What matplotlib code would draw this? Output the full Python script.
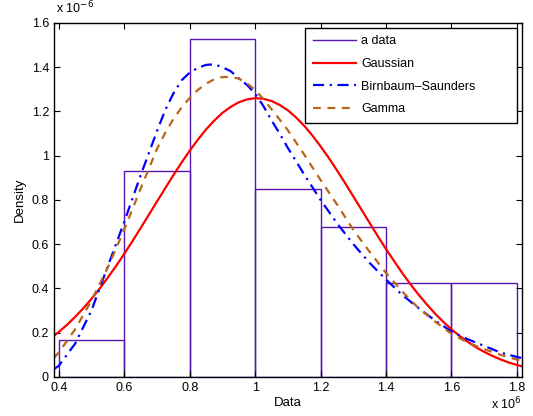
import matplotlib
matplotlib.use("Agg")
import matplotlib.pyplot as plt
from matplotlib.lines import Line2D

plt.rcParams['font.family'] = ['Liberation Sans', 'DejaVu Sans']

# histogram (x in units of 1e6, density in units of 1e-6)
bin_edges = [0.4, 0.6, 0.8, 1.0, 1.2, 1.4, 1.6, 1.8]
bin_density = [0.167, 0.930, 1.525, 0.847, 0.678, 0.423, 0.423]

# fitted curves
gauss_x = [0.385, 0.40, 0.425, 0.45, 0.475, 0.50, 0.525, 0.55, 0.575, 0.60,
           0.625, 0.65, 0.675, 0.70, 0.725, 0.75, 0.775, 0.80, 0.825, 0.85,
           0.875, 0.90, 0.925, 0.95, 0.975, 1.00, 1.025, 1.05, 1.075, 1.10,
           1.125, 1.15, 1.175, 1.20, 1.225, 1.25, 1.275, 1.30, 1.325, 1.35,
           1.375, 1.40, 1.425, 1.45, 1.475, 1.50, 1.525, 1.55, 1.575, 1.60,
           1.625, 1.65, 1.675, 1.70, 1.725, 1.75, 1.775, 1.80, 1.815]
gauss_y = [0.185, 0.203, 0.235, 0.271, 0.310, 0.353, 0.399, 0.449, 0.501, 0.556,
           0.613, 0.672, 0.732, 0.792, 0.852, 0.911, 0.968, 1.022, 1.072, 1.118,
           1.158, 1.193, 1.220, 1.241, 1.254, 1.260, 1.257, 1.247, 1.229, 1.205,
           1.173, 1.135, 1.091, 1.042, 0.990, 0.934, 0.876, 0.816, 0.756, 0.696,
           0.636, 0.578, 0.523, 0.469, 0.418, 0.371, 0.327, 0.286, 0.249, 0.215,
           0.185, 0.158, 0.134, 0.113, 0.095, 0.079, 0.065, 0.054, 0.048]

fit_x = [0.385, 0.40, 0.45, 0.50, 0.55, 0.60, 0.65, 0.70, 0.725, 0.75,
         0.775, 0.80, 0.825, 0.85, 0.875, 0.90, 0.925, 0.95, 0.975, 1.00,
         1.025, 1.05, 1.075, 1.10, 1.15, 1.20, 1.25, 1.30, 1.35, 1.40,
         1.45, 1.50, 1.55, 1.60, 1.65, 1.70, 1.75, 1.80, 1.815]
bs_y = [0.035, 0.05, 0.15, 0.30, 0.50, 0.70, 0.91, 1.11, 1.205, 1.28,
        1.34, 1.375, 1.397, 1.41, 1.413, 1.40, 1.382, 1.35, 1.32, 1.28,
        1.225, 1.16, 1.10, 1.035, 0.915, 0.80, 0.695, 0.60, 0.515, 0.44,
        0.37, 0.31, 0.255, 0.205, 0.17, 0.14, 0.11, 0.09, 0.085]
gamma_y = [0.085, 0.11, 0.215, 0.345, 0.495, 0.665, 0.85, 1.03, 1.102, 1.165,
           1.217, 1.26, 1.297, 1.325, 1.345, 1.355, 1.356, 1.348, 1.327, 1.297,
           1.256, 1.21, 1.163, 1.115, 1.005, 0.89, 0.78, 0.665, 0.565, 0.47,
           0.385, 0.31, 0.25, 0.195, 0.155, 0.125, 0.10, 0.078, 0.072]

x_ticks = [0.4, 0.6, 0.8, 1.0, 1.2, 1.4, 1.6, 1.8]
x_tick_labels = ['0.4', '0.6', '0.8', '1', '1.2', '1.4', '1.6', '1.8']
y_ticks = [0, 0.2, 0.4, 0.6, 0.8, 1.0, 1.2, 1.4, 1.6]
y_tick_labels = ['0', '0.2', '0.4', '0.6', '0.8', '1', '1.2', '1.4', '1.6']

fig = plt.figure(figsize=(5.33, 4.16), dpi=100)
ax = fig.add_axes([0.101, 0.094, 0.878, 0.851])

purple = '#5a14b0'
widths = [bin_edges[i + 1] - bin_edges[i] for i in range(len(bin_density))]
ax.bar(bin_edges[:-1], bin_density, width=widths, align='edge',
       fill=False, edgecolor=purple, linewidth=1.0)

l1, = ax.plot(gauss_x, gauss_y, color='#ff0000', linewidth=1.6)
l2, = ax.plot(fit_x, bs_y, color='#0000ff', linewidth=1.6, linestyle='-.',
              dashes=(5, 2.5, 1, 2.5))
l3, = ax.plot(fit_x, gamma_y, color='#b8661a', linewidth=1.6, linestyle='--',
              dashes=(3.5, 3))
hist_handle = Line2D([], [], color=purple, linewidth=1.0)

ax.set_xlim(0.385, 1.815)
ax.set_ylim(0, 1.6)
ax.set_xticks(x_ticks)
ax.set_xticklabels(x_tick_labels)
ax.set_yticks(y_ticks)
ax.set_yticklabels(y_tick_labels)
ax.tick_params(direction='in', top=True, right=True, labelsize=9, length=4)
for sp in ax.spines.values():
    sp.set_linewidth(1.0)

ax.set_xlabel('Data', fontsize=9.5, labelpad=2)
ax.set_ylabel('Density', fontsize=9.5, labelpad=4)

fig.text(0.105, 0.962, 'x 10$^{-6}$', fontsize=9, ha='left', va='bottom')
fig.text(0.978, 0.008, 'x 10$^{6}$', fontsize=9, ha='right', va='bottom')

leg = ax.legend([hist_handle, l1, l2, l3],
                ['a data', 'Gaussian', 'Birnbaum\u2013Saunders', 'Gamma'],
                loc='upper left', mode='expand', borderaxespad=0,
                bbox_to_anchor=(0.537, 0.5, 0.453, 0.4856),
                fontsize=9, fancybox=False, framealpha=1,
                edgecolor='black', handlelength=3.5, handletextpad=0.4,
                borderpad=0.6, labelspacing=0.85)
leg.get_frame().set_linewidth(1.0)

fig.savefig('out.png', dpi=100)
